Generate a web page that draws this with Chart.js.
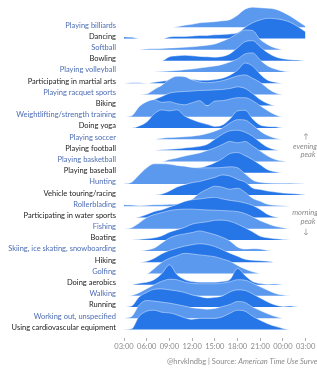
<!DOCTYPE html>
<html><head><meta charset="utf-8">
<script src="https://cdn.jsdelivr.net/npm/chart.js@4.4.0/dist/chart.umd.min.js"></script>
<style>html,body{margin:0;padding:0;background:#fff;}</style>
</head><body>
<canvas id="c" width="317" height="369"></canvas>
<script>
const HOURS = [3,4,5,6,7,8,9,10,11,12,13,14,15,16,17,18,19,20,21,22,23,24,25,26,27];
const X_TICK_VALUES = [3,6,9,12,15,18,21,24,27];
const X_TICK_LABELS = ['03:00','06:00','09:00','12:00','15:00','18:00','21:00','00:00','03:00'];
const CATEGORIES = ['Playing billiards','Dancing','Softball','Bowling','Playing volleyball','Participating in martial arts','Playing racquet sports','Biking','Weightlifting/strength training','Doing yoga','Playing soccer','Playing football','Playing basketball','Playing baseball','Hunting','Vehicle touring/racing','Rollerblading','Participating in water sports','Fishing','Boating','Skiing, ice skating, snowboarding','Hiking','Golfing','Doing aerobics','Walking','Running','Working out, unspecified','Using cardiovascular equipment'];

// relative activity level (0-100), hourly from 03:00 to 03:00
const billiards    = [0,0,0,0,0,0,0,3,10,15,22,25,28,32,38,60,90,100,97,95,90,75,55,30,5];
const dancing      = [8,6,0,0,0,0,8,10,10,12,15,15,18,20,22,28,55,78,92,100,98,92,80,58,33];
const softball     = [0,0,0,3,4,6,8,10,12,14,18,22,28,42,58,80,98,95,50,25,8,0,0,0,0];
const bowling      = [0,0,0,0,0,0,20,25,28,25,22,20,18,22,35,65,95,100,70,40,20,10,6,4,0];
const volleyball   = [0,0,0,0,0,3,5,8,12,15,20,25,30,38,50,65,90,95,60,30,15,5,0,0,0];
const martialArts  = [0,3,3,0,5,10,15,20,20,18,15,15,18,25,40,65,100,85,45,15,5,0,0,0,0];
const racquet      = [0,0,0,3,25,45,75,90,88,72,62,58,62,68,80,92,97,80,60,30,8,0,0,0,0];
const biking       = [0,0,0,10,30,45,62,68,70,72,75,76,78,80,85,93,85,60,30,10,0,0,0,0,0];
const weightlifting= [0,5,50,75,85,72,75,65,60,70,80,55,78,80,88,95,95,80,55,30,10,0,0,0,0];
const yoga         = [0,0,10,30,70,90,85,90,60,42,28,18,8,15,45,85,88,45,15,8,6,0,0,0,0];
const soccer       = [0,0,0,0,0,5,8,10,12,15,20,28,40,55,80,97,95,70,40,18,5,0,0,0,0];
const football     = [0,0,0,0,0,3,5,8,12,15,20,30,55,80,97,100,90,70,40,15,3,0,0,0,0];
const basketball   = [0,0,0,0,0,0,10,18,27,35,43,55,68,85,100,93,100,77,52,27,10,3,0,0,0];
const baseball     = [0,0,0,0,0,0,5,10,15,20,25,35,50,70,95,100,85,65,40,15,5,0,0,0,0];
const hunting      = [0,8,45,80,100,100,98,92,88,82,80,80,80,82,85,80,50,20,8,5,4,3,4,2,0];
const vehicle      = [0,0,0,0,0,5,20,40,52,62,68,78,88,100,95,78,65,35,28,20,15,10,8,5,0];
const rollerblading= [8,6,3,5,8,8,10,12,20,35,65,85,100,95,85,90,70,40,25,10,5,3,0,0,0];
const waterSports  = [0,0,3,15,30,38,52,65,80,88,92,97,100,92,85,80,72,60,40,15,3,0,0,0,0];
const fishing      = [0,5,28,55,70,80,90,95,97,97,95,93,92,90,88,85,75,58,40,25,12,5,0,0,0];
const boating      = [0,0,2,5,10,20,38,50,62,78,85,90,97,98,92,78,60,40,18,10,5,2,0,0,0];
const skiing       = [0,0,0,5,15,40,65,78,85,92,100,92,82,68,50,20,10,12,10,3,0,0,0,0,0];
const hiking       = [0,0,0,5,20,42,58,70,80,87,92,88,78,62,45,30,15,10,8,5,0,0,0,0,0];
const golfing      = [0,0,0,0,25,55,75,88,100,97,92,88,83,72,60,40,22,8,0,0,0,0,0,0,0];
const aerobics     = [0,0,7,12,25,55,98,50,25,15,12,12,12,15,25,80,45,15,5,2,3,0,0,0,0];
const walking      = [0,2,15,35,55,72,82,80,68,62,60,60,60,63,70,80,78,62,45,28,12,4,0,0,0];
const running      = [0,5,50,72,88,90,85,80,72,60,52,45,48,55,75,85,82,65,45,25,10,3,5,0,0];
const workingOut   = [0,8,65,88,85,80,75,68,60,52,48,45,48,58,68,83,78,55,38,22,8,0,0,0,0];
const cardio       = [0,3,65,90,95,85,82,72,58,50,55,55,55,62,80,95,90,65,45,28,15,5,0,0,0];

const SERIES = [billiards,dancing,softball,bowling,volleyball,martialArts,racquet,biking,weightlifting,yoga,soccer,football,basketball,baseball,hunting,vehicle,rollerblading,waterSports,fishing,boating,skiing,hiking,golfing,aerobics,walking,running,workingOut,cardio];

const N = CATEGORIES.length;
const RIDGE = 1.8;            // ridge height (in rows) for value 100
const LIGHT = '#5b99ef', DARK = '#2676e8';
const LABEL_BLUE = '#4d6db3', LABEL_DARK = '#222222';
const FONT = 'Lato';

const datasets = CATEGORIES.map((name, r) => {
  const base = N - 1 - r;
  return {
    label: name,
    data: HOURS.map((h, i) => ({x: h, y: base + SERIES[r][i] / 100 * RIDGE})),
    fill: {value: base},
    backgroundColor: r % 2 === 0 ? LIGHT : DARK,
    borderColor: 'rgba(255,255,255,0.55)',
    borderWidth: 0.8,
    pointRadius: 0,
    cubicInterpolationMode: 'monotone',
    order: N - 1 - r
  };
});

const extraText = {
  id: 'extraText',
  afterDraw(chart) {
    const c = chart.ctx;
    c.save();
    c.fillStyle = '#8a8a8a';
    c.textBaseline = 'middle';
    c.textAlign = 'center';
    c.font = 'italic 7.5px ' + FONT;
    c.fillText('\u2191', 306, 137);
    c.fillText('evening', 305, 147);
    c.fillText('peak', 308, 155);
    c.fillText('morning', 305, 213);
    c.fillText('peak', 308, 222);
    c.fillText('\u2193', 306, 232);
    c.textAlign = 'left';
    c.font = '7.5px ' + FONT;
    const p1 = '@hrvklndbg | Source: ';
    c.fillText(p1, 167, 362);
    const w = c.measureText(p1).width;
    c.font = 'italic 7.5px ' + FONT;
    c.fillText('American Time Use Survey', 167 + w, 362);
    c.restore();
  }
};

new Chart(document.getElementById('c'), {
  type: 'line',
  data: {datasets},
  options: {
    responsive: false,
    animation: false,
    devicePixelRatio: 1,
    layout: {padding: {left: 0, right: 11.4, top: 0, bottom: 0}},
    plugins: {legend: {display: false}, tooltip: {enabled: false}},
    scales: {
      x: {
        type: 'linear', min: 3, max: 27,
        afterBuildTicks: s => { s.ticks = X_TICK_VALUES.map(v => ({value: v})); },
        afterFit: s => { s.height = 31; s.paddingLeft = 0; s.paddingRight = 0; },
        ticks: {
          callback: (v, i) => X_TICK_LABELS[i],
          font: {family: FONT, size: 7.5}, color: '#8a8a8a',
          padding: 1, maxRotation: 0, autoSkip: false
        },
        grid: {drawOnChartArea: false, drawTicks: true, tickLength: 3, color: '#b0b0b0'},
        border: {display: false}
      },
      y: {
        type: 'linear', min: -0.77, max: 29.44,
        afterBuildTicks: s => { s.ticks = CATEGORIES.map((_, r) => ({value: N - 1 - r + 0.18})); },
        afterFit: s => { s.width = 124; s.paddingTop = 0; s.paddingBottom = 0; },
        ticks: {
          callback: (v) => CATEGORIES[Math.round(N - 1 - v)],
          color: ctx => (Math.round(N - 1 - ctx.tick.value) % 2 === 0 ? LABEL_BLUE : LABEL_DARK),
          font: {family: FONT, size: 7.5},
          padding: 8, autoSkip: false
        },
        grid: {display: false, drawTicks: false},
        border: {display: false}
      }
    }
  },
  plugins: [extraText]
});
</script>
</body></html>
